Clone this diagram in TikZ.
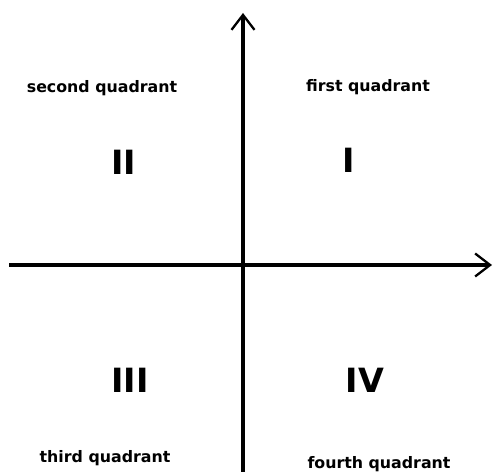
\documentclass[tikz,border=0pt]{standalone}
\usepackage{fontspec}
\setmainfont{DejaVu Sans}
\usepackage{tikz}
\usetikzlibrary{arrows.meta}
\tikzset{
    axis/.style={line width=1.8pt, -{Straight Barb[length=0.3cm, width=0.46cm, line width=1.3pt]}},
    quadname/.style={font=\bfseries\fontsize{9}{10}\selectfont},
    numeral/.style={font=\bfseries\fontsize{19}{20}\selectfont}
}
\begin{document}
\begin{tikzpicture}[x=0.02cm, y=-0.02cm]
    \useasboundingbox (0,0) rectangle (494,472);
    \coordinate (ybot) at (243,472);
    \coordinate (ytop) at (243,13);
    \coordinate (xleft) at (9,265);
    \coordinate (xright) at (492,265);
    \draw[axis] (ybot) -- (ytop);
    \draw[axis] (xleft) -- (xright);
    \node[quadname] (second) at (102,88) {second quadrant};
    \node[quadname] (first) at (368,87) {first quadrant};
    \node[quadname] (third) at (105,458) {third quadrant};
    \node[quadname] (fourth) at (379,464) {fourth quadrant};
    \node[numeral] (II) at (124,162) {II};
    \node[numeral] (I) at (349,160) {I};
    \node[numeral] (III) at (130,380) {III};
    \node[numeral] (IV) at (365,380) {IV};
\end{tikzpicture}
\end{document}
